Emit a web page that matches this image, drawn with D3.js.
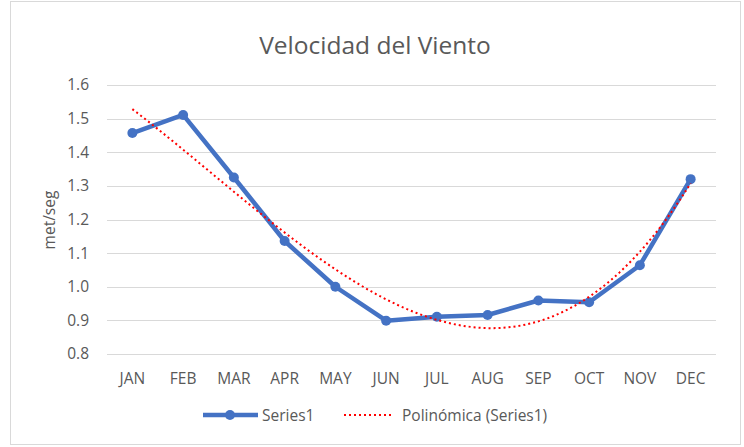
<!DOCTYPE html>
<html><head><meta charset="utf-8">
<script src="https://cdn.jsdelivr.net/npm/d3@7"></script>
<style>body{margin:0;background:#fff}svg{display:block}</style>
</head><body>
<svg id="c" width="744" height="447"></svg>
<script>
const months = ["JAN","FEB","MAR","APR","MAY","JUN","JUL","AUG","SEP","OCT","NOV","DEC"];
const series1 = [1.457,1.511,1.325,1.136,1.000,0.899,0.911,0.916,0.959,0.954,1.064,1.320];
const yTicks = [0.8,0.9,1.0,1.1,1.2,1.3,1.4,1.5,1.6];
const title = "Velocidad del Viento";
const yLabel = "met/seg";
const legendNames = ["Series1","Polinómica (Series1)"];

// cubic least-squares trendline (Excel polynomial order 3)
function polyFit(ys, order){
  const n = ys.length, m = order+1;
  const A = Array.from({length:m},()=>Array(m+1).fill(0));
  ys.forEach((y,i)=>{const x=i+1;
    for(let r=0;r<m;r++){for(let c=0;c<m;c++)A[r][c]+=Math.pow(x,r+c);A[r][m]+=y*Math.pow(x,r);}});
  for(let i=0;i<m;i++){let p=i;for(let r=i+1;r<m;r++)if(Math.abs(A[r][i])>Math.abs(A[p][i]))p=r;
    [A[i],A[p]]=[A[p],A[i]];
    for(let r=0;r<m;r++){if(r===i)continue;const f=A[r][i]/A[i][i];for(let c=i;c<=m;c++)A[r][c]-=f*A[i][c];}}
  return A.map((row,i)=>row[m]/row[i]);
}
const coef = polyFit(series1,3);
const trendAt = x => coef.reduce((s,c,k)=>s+c*Math.pow(x,k),0);

const svg = d3.select("#c");
const font = "'Open Sans', 'Noto Sans', sans-serif";
const txt = "#595959";

svg.append("rect").attr("x",10.5).attr("y",1.5).attr("width",730).attr("height",443)
  .attr("fill","#fff").attr("stroke","#d9d9d9").attr("stroke-width",1);

const L=107, R=716, T=85, B=354;
const x = d3.scaleBand().domain(months).range([L,R]);
const xc = d => x(d)+x.bandwidth()/2;
const xLin = d3.scaleLinear().domain([1,12]).range([xc(months[0]), xc(months[11])]);
const y = d3.scaleLinear().domain([0.8,1.6]).range([B,T]);

// gridlines
svg.append("g").selectAll("line").data(yTicks).join("line")
  .attr("x1",L).attr("x2",R).attr("y1",d=>Math.round(y(d))+0.5).attr("y2",d=>Math.round(y(d))+0.5)
  .attr("stroke","#d9d9d9").attr("stroke-width",1);

// y axis labels
const yAxis = d3.axisLeft(y).tickValues(yTicks).tickFormat(d3.format(".1f")).tickSize(0).tickPadding(18);
const gy = svg.append("g").attr("transform",`translate(${L},0)`).call(yAxis);
gy.select(".domain").remove();
gy.selectAll("text").attr("fill",txt).style("font-family",font).style("font-size","15.5px");

// x axis labels
const xAxis = d3.axisBottom(x).tickSize(0).tickPadding(19);
const gx = svg.append("g").attr("transform",`translate(0,${B})`).call(xAxis);
gx.select(".domain").remove();
gx.selectAll("text").attr("fill",txt).style("font-family",font).style("font-size","15.5px");

// series line
svg.append("path").datum(series1)
  .attr("d",d3.line().x((d,i)=>xc(months[i])).y(d=>y(d)))
  .attr("fill","none").attr("stroke","#4472C4").attr("stroke-width",4.5).attr("stroke-linejoin","round");
svg.append("g").selectAll("circle").data(series1).join("circle")
  .attr("cx",(d,i)=>xc(months[i])).attr("cy",d=>y(d)).attr("r",5).attr("fill","#4472C4");

// trendline
const tx = d3.range(1,12.001,0.1);
svg.append("path").datum(tx)
  .attr("d",d3.line().x(d=>xLin(d)).y(d=>y(trendAt(d))))
  .attr("fill","none").attr("stroke","#FF0000").attr("stroke-width",2).attr("stroke-dasharray","2,3");

// title
svg.append("text").attr("x",375).attr("y",54).attr("text-anchor","middle")
  .attr("fill",txt).style("font-family",font).style("font-size","24.5px").text(title);

// y label
svg.append("text").attr("transform","translate(55,220) rotate(-90)").attr("text-anchor","middle")
  .attr("fill",txt).style("font-family",font).style("font-size","15.5px").text(yLabel);

// legend
const ly = 415;
svg.append("line").attr("x1",203).attr("x2",258).attr("y1",ly).attr("y2",ly)
  .attr("stroke","#4472C4").attr("stroke-width",4.5);
svg.append("circle").attr("cx",230).attr("cy",ly).attr("r",5).attr("fill","#4472C4");
svg.append("text").attr("x",262).attr("y",ly+5.5).attr("fill",txt)
  .style("font-family",font).style("font-size","15.5px").text(legendNames[0]);
svg.append("line").attr("x1",344).attr("x2",392).attr("y1",ly).attr("y2",ly)
  .attr("stroke","#FF0000").attr("stroke-width",2).attr("stroke-dasharray","2,3");
svg.append("text").attr("x",402).attr("y",ly+5.5).attr("fill",txt)
  .style("font-family",font).style("font-size","15.5px").text(legendNames[1]);
</script>
</body></html>
